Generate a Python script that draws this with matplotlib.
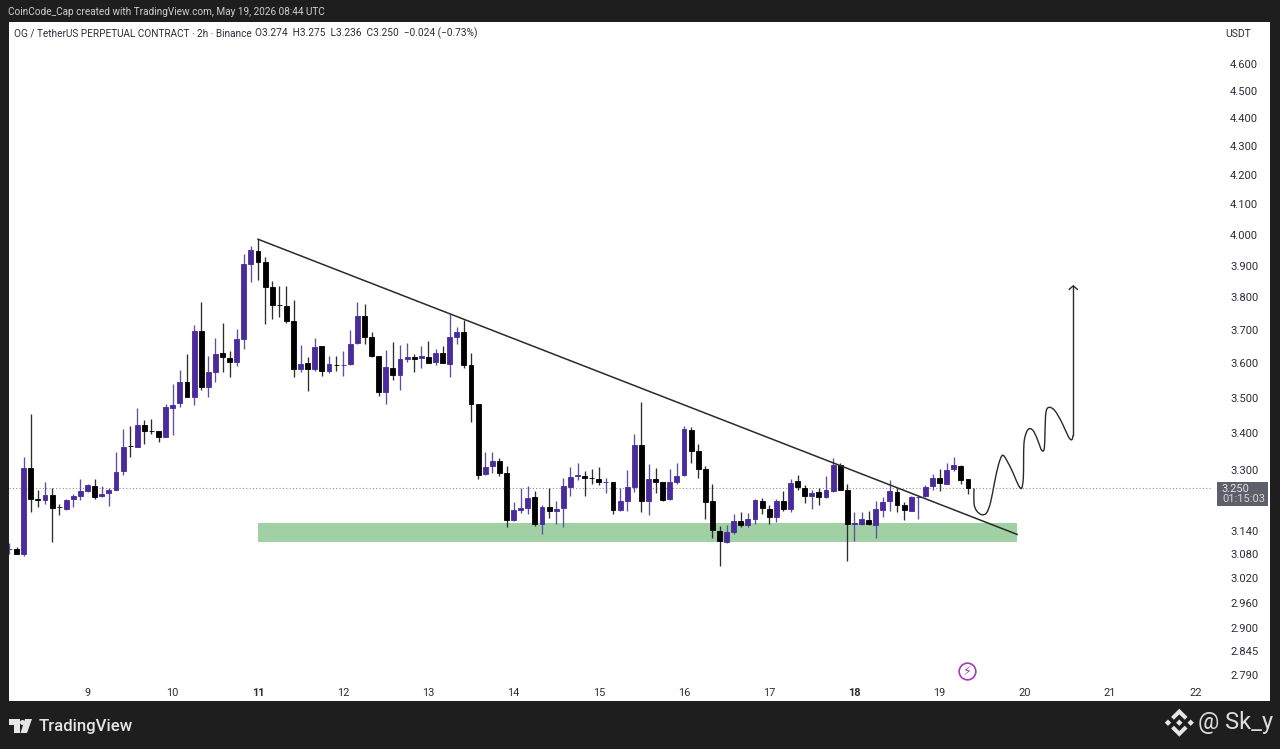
import numpy as np
import matplotlib
matplotlib.use("Agg")
import matplotlib.pyplot as plt
from matplotlib.patches import Rectangle, Polygon, PathPatch
from matplotlib.path import Path

# 2h candles, 12 per day, day 11 00:00 is candle number 0
candle_numbers = np.arange(-35, 101)
opens = [3.092, 3.094, 3.080, 3.305, 3.221, 3.220, 3.233, 3.202, 3.195, 3.221,
         3.229, 3.242, 3.257, 3.231, 3.238, 3.246, 3.296, 3.365, 3.362, 3.424,
         3.406, 3.405, 3.390, 3.472, 3.484, 3.545, 3.503, 3.696, 3.532, 3.575,
         3.631, 3.616, 3.603, 3.673, 3.905, 3.948, 3.911, 3.831, 3.777, 3.774,
         3.728, 3.583, 3.600, 3.583, 3.651, 3.577, 3.596, 3.594, 3.597, 3.661,
         3.742, 3.679, 3.622, 3.516, 3.587, 3.565, 3.614, 3.620, 3.615, 3.620,
         3.605, 3.630, 3.599, 3.679, 3.694, 3.594, 3.481, 3.288, 3.310, 3.324,
         3.292, 3.166, 3.193, 3.199, 3.228, 3.156, 3.200, 3.190, 3.198, 3.254,
         3.284, 3.283, 3.278, 3.275, 3.267, 3.267, 3.193, 3.218, 3.254, 3.367,
         3.217, 3.275, 3.266, 3.221, 3.268, 3.285, 3.410, 3.351, 3.301, 3.216,
         3.139, 3.111, 3.135, 3.164, 3.155, 3.171, 3.217, 3.196, 3.175, 3.218,
         3.196, 3.270, 3.252, 3.231, 3.240, 3.227, 3.244, 3.314, 3.245, 3.158,
         3.157, 3.168, 3.155, 3.193, 3.217, 3.240, 3.206, 3.191, 3.227, 3.229,
         3.257, 3.277, 3.263, 3.301, 3.311, 3.274]
highs = [3.107, 3.098, 3.335, 3.453, 3.245, 3.267, 3.250, 3.210, 3.222, 3.236,
         3.276, 3.263, 3.274, 3.256, 3.252, 3.349, 3.413, 3.421, 3.470, 3.436,
         3.441, 3.405, 3.482, 3.541, 3.580, 3.629, 3.716, 3.786, 3.621, 3.676,
         3.721, 3.637, 3.703, 3.937, 3.964, 3.985, 3.928, 3.851, 3.835, 3.836,
         3.791, 3.654, 3.619, 3.677, 3.652, 3.621, 3.621, 3.637, 3.701, 3.786,
         3.779, 3.694, 3.623, 3.639, 3.664, 3.654, 3.661, 3.629, 3.651, 3.666,
         3.644, 3.651, 3.747, 3.709, 3.730, 3.632, 3.482, 3.347, 3.347, 3.333,
         3.311, 3.214, 3.250, 3.257, 3.242, 3.206, 3.250, 3.216, 3.278, 3.307,
         3.317, 3.296, 3.303, 3.308, 3.279, 3.268, 3.250, 3.299, 3.399, 3.487,
         3.315, 3.306, 3.267, 3.303, 3.319, 3.420, 3.418, 3.371, 3.310, 3.263,
         3.151, 3.154, 3.184, 3.188, 3.186, 3.223, 3.224, 3.206, 3.223, 3.243,
         3.276, 3.285, 3.259, 3.247, 3.250, 3.283, 3.331, 3.317, 3.261, 3.187,
         3.187, 3.191, 3.216, 3.227, 3.272, 3.252, 3.214, 3.231, 3.231, 3.259,
         3.288, 3.303, 3.319, 3.334, 3.312, 3.275]
lows = [3.080, 3.079, 3.074, 3.188, 3.201, 3.208, 3.111, 3.179, 3.194, 3.201,
        3.220, 3.240, 3.222, 3.227, 3.203, 3.245, 3.287, 3.334, 3.362, 3.371,
        3.397, 3.376, 3.390, 3.395, 3.473, 3.501, 3.479, 3.522, 3.503, 3.546,
        3.575, 3.559, 3.591, 3.644, 3.847, 3.854, 3.717, 3.734, 3.739, 3.720,
        3.560, 3.575, 3.519, 3.577, 3.563, 3.573, 3.577, 3.564, 3.596, 3.659,
        3.659, 3.619, 3.505, 3.482, 3.551, 3.522, 3.604, 3.575, 3.587, 3.601,
        3.594, 3.601, 3.560, 3.657, 3.587, 3.432, 3.276, 3.287, 3.292, 3.283,
        3.149, 3.164, 3.186, 3.182, 3.151, 3.130, 3.173, 3.158, 3.149, 3.230,
        3.272, 3.230, 3.263, 3.259, 3.238, 3.184, 3.191, 3.191, 3.241, 3.187,
        3.181, 3.239, 3.218, 3.220, 3.261, 3.283, 3.317, 3.279, 3.171, 3.121,
        3.049, 3.109, 3.132, 3.148, 3.148, 3.158, 3.184, 3.158, 3.161, 3.191,
        3.188, 3.247, 3.211, 3.196, 3.206, 3.225, 3.241, 3.245, 3.063, 3.114,
        3.154, 3.154, 3.120, 3.175, 3.191, 3.188, 3.168, 3.190, 3.171, 3.227,
        3.247, 3.243, 3.261, 3.297, 3.262, 3.236]
closes = [3.093, 3.081, 3.305, 3.221, 3.220, 3.233, 3.199, 3.201, 3.220, 3.229,
          3.242, 3.258, 3.228, 3.236, 3.246, 3.294, 3.362, 3.364, 3.424, 3.406,
          3.405, 3.389, 3.473, 3.480, 3.545, 3.501, 3.696, 3.532, 3.575, 3.629,
          3.618, 3.603, 3.673, 3.905, 3.950, 3.911, 3.833, 3.777, 3.776, 3.728,
          3.583, 3.599, 3.583, 3.650, 3.577, 3.598, 3.595, 3.595, 3.659, 3.742,
          3.679, 3.621, 3.516, 3.589, 3.566, 3.614, 3.620, 3.614, 3.621, 3.602,
          3.630, 3.602, 3.679, 3.694, 3.595, 3.483, 3.286, 3.307, 3.324, 3.290,
          3.166, 3.194, 3.199, 3.224, 3.156, 3.201, 3.191, 3.196, 3.256, 3.280,
          3.285, 3.277, 3.277, 3.266, 3.268, 3.193, 3.218, 3.254, 3.367, 3.216,
          3.275, 3.267, 3.220, 3.268, 3.284, 3.411, 3.352, 3.302, 3.214, 3.141,
          3.113, 3.135, 3.165, 3.154, 3.171, 3.219, 3.198, 3.175, 3.217, 3.195,
          3.265, 3.253, 3.231, 3.238, 3.227, 3.245, 3.314, 3.247, 3.158, 3.159,
          3.171, 3.156, 3.195, 3.215, 3.242, 3.207, 3.193, 3.226, 3.228, 3.254,
          3.277, 3.265, 3.299, 3.312, 3.272, 3.250]

# hand drawn bits of the idea: trend line, demand zone, projected path
trend_days = [11.0, 19.91]
trend_prices = [3.985, 3.130]
zone_days = [11.0, 19.91]
zone_prices = [3.110, 3.159]
path_days = [19.404, 19.404, 19.435, 19.494, 19.552, 19.599, 19.642, 19.689,
             19.736, 19.787, 19.865, 19.924, 19.963, 19.983, 19.990, 20.022,
             20.061, 20.108, 20.159, 20.198, 20.229, 20.237, 20.249, 20.288,
             20.354, 20.433, 20.511, 20.550, 20.569]
path_prices = [3.250, 3.210, 3.191, 3.181, 3.186, 3.214, 3.263, 3.312,
               3.339, 3.326, 3.290, 3.259, 3.251, 3.281, 3.371, 3.404,
               3.413, 3.404, 3.376, 3.353, 3.358, 3.408, 3.460, 3.473,
               3.463, 3.431, 3.391, 3.382, 3.395]
shaft_days = [20.569, 20.569]
shaft_prices = [3.395, 3.835]
arrow_days = [20.522, 20.569, 20.616]
arrow_prices = [3.825, 3.836, 3.825]

last_price = 3.250
price_ticks = [4.6, 4.5, 4.4, 4.3, 4.2, 4.1, 4.0, 3.9, 3.8, 3.7, 3.6, 3.5, 3.4,
               3.3, 3.14, 3.08, 3.02, 2.96, 2.9, 2.845, 2.79]
day_ticks = [9, 10, 11, 12, 13, 14, 15, 16, 17, 18, 19, 20, 21, 22]
bold_days = [11, 18]

title = "OG / TetherUS PERPETUAL CONTRACT · 2h · Binance"
ohlc_text = "O3.274  H3.275  L3.236  C3.250  −0.024 (−0.73%)"
credit = "CoinCode_Cap created with TradingView.com, May 19, 2026 08:44 UTC"

W, H = 1280, 749
DARK = "#1e1e1e"
UP = "#4a2b9b"
DOWN = "#000000"
TEXT = "#2a2e39"
INK = "#2a2a2a"
LOGO = "#e6e6e6"
plt.rcParams["font.family"] = ["Roboto", "DejaVu Sans"]


def px_axes(fig, left, top, right, bottom):
    return fig.add_axes([left / W, 1 - bottom / H, (right - left) / W, (bottom - top) / H])


def smooth_path(xs, ys):
    # catmull-rom through the read points, the original is a freehand brush
    pts = np.column_stack([xs, ys])
    verts, codes = [pts[0]], [Path.MOVETO]
    for i in range(len(pts) - 1):
        prev = pts[max(i - 1, 0)]
        nxt = pts[min(i + 2, len(pts) - 1)]
        verts += [pts[i] + (pts[i + 1] - prev) / 6, pts[i + 1] - (nxt - pts[i]) / 6, pts[i + 1]]
        codes += [Path.CURVE4] * 3
    return Path(verts, codes)


fig = plt.figure(figsize=(W / 100, H / 100), dpi=100, facecolor=DARK)

# chrome layer in pixel coordinates
chrome = fig.add_axes([0, 0, 1, 1], zorder=0)
chrome.set_xlim(0, W)
chrome.set_ylim(H, 0)
chrome.axis("off")
chrome.add_patch(Rectangle((9, 22), 1261, 679, fc="white", ec="none"))
chrome.text(8, 12, credit, fontsize=7.2, color="#cfcfcf", va="center")
chrome.text(14, 33.5, title, fontsize=7.2, color=TEXT, va="center")
chrome.text(255, 33.5, ohlc_text, fontsize=7.3, color=TEXT, va="center")
chrome.text(1238.5, 34, "USDT", fontsize=7.5, color=TEXT, va="center", ha="center")

# tradingview logo and the watermark
chrome.add_patch(Polygon([(9, 719), (20, 719), (20, 733), (14, 733), (14, 725), (9, 725)], fc=LOGO, ec="none"))
chrome.add_patch(Polygon([(25, 719), (32, 719), (27, 733), (20.5, 733)], fc=LOGO, ec="none"))
chrome.plot(21.5, 722, "o", ms=3.6, color=LOGO, mec="none")
chrome.text(39, 726, "TradingView", fontsize=12.1, color=LOGO, va="center", fontweight="medium")
for cx, r in [(1168, 3.2), (1179.3, 3.2), (1190.7, 3.2)]:
    chrome.add_patch(Polygon([(cx - r, 722.7), (cx, 722.7 - r), (cx + r, 722.7), (cx, 722.7 + r)], fc=LOGO, ec="none"))
for sign in [-1, 1]:
    chrome.add_patch(Polygon([(1179.3, 722.7 + sign * 14), (1187.5, 722.7 + sign * 5.8),
                              (1184.7, 722.7 + sign * 3), (1179.3, 722.7 + sign * 8.3),
                              (1173.9, 722.7 + sign * 3), (1171.1, 722.7 + sign * 5.8)],
                             fc=LOGO, ec="none"))
chrome.text(1198, 722, "@ Sk_y", fontsize=17, color="#dcdcdc", va="center")

# price tag
chrome.add_patch(Rectangle((1217, 482), 51, 24, fc="#5d606b", ec="none"))
chrome.text(1222, 488.5, "3.250", fontsize=8, color="#e4e4e8", va="center")
chrome.text(1222, 499.5, "01:15:03", fontsize=8, color="#d4d4d8", va="center")

# price pane, log scale like the source chart
ax = px_axes(fig, 9, 22, 1212, 682)
ax.patch.set_alpha(0)
ax.set_yscale("log")
ax.set_xlim(8.0775, 22.197)
ax.set_ylim(2.774, 4.76)
for s in ax.spines.values():
    s.set_visible(False)

times = 11 + candle_numbers / 12
body_w = 0.058
for t, o, h, l, c in zip(times, opens, highs, lows, closes):
    color = UP if c >= o else DOWN
    wick = "#5f4f9f" if c >= o else "#2e2e2e"
    ax.vlines(t, l, h, color=wick, lw=0.95, zorder=3)
    ax.bar(t, abs(c - o), width=body_w, bottom=min(o, c), color=color,
           edgecolor=color, lw=0.6, zorder=4)

ax.axhline(last_price, color="#8a8e99", lw=0.8, ls=(0, (1, 2)), zorder=2)
ax.fill_between(zone_days, zone_prices[0], zone_prices[1], color="#a0d0a4", lw=0, zorder=1)
ax.plot(trend_days, trend_prices, color=INK, lw=1.1, zorder=5)
ax.add_patch(PathPatch(smooth_path(path_days, path_prices), fc="none", ec=INK, lw=1.0, zorder=5))
ax.plot(shaft_days, shaft_prices, color=INK, lw=1.0, zorder=5)
ax.plot(arrow_days, arrow_prices, color=INK, lw=1.0, zorder=5)

# lightning marker
ax.plot(19.32, 2.799, "o", ms=12, mfc="white", mec="#a23cb4", mew=1.2, zorder=6)
ax.text(19.32, 2.799, "\u26a1", family="DejaVu Sans", fontsize=9, color="#a23cb4",
        ha="center", va="center", zorder=7)

ax.yaxis.tick_right()
ax.set_yticks(price_ticks)
ax.set_yticks([], minor=True)
ax.set_yticklabels(["%.3f" % p for p in price_ticks], fontsize=8.1, color=TEXT)
ax.tick_params(axis="y", length=0, pad=13)
ax.set_xticks(day_ticks)
ax.set_xticklabels([str(d) for d in day_ticks], fontsize=7.9, color=TEXT)
for lab, d in zip(ax.get_xticklabels(), day_ticks):
    if d in bold_days:
        lab.set_fontweight("bold")
ax.tick_params(axis="x", length=0, pad=4)

fig.savefig("out.png", dpi=100, facecolor=DARK)
